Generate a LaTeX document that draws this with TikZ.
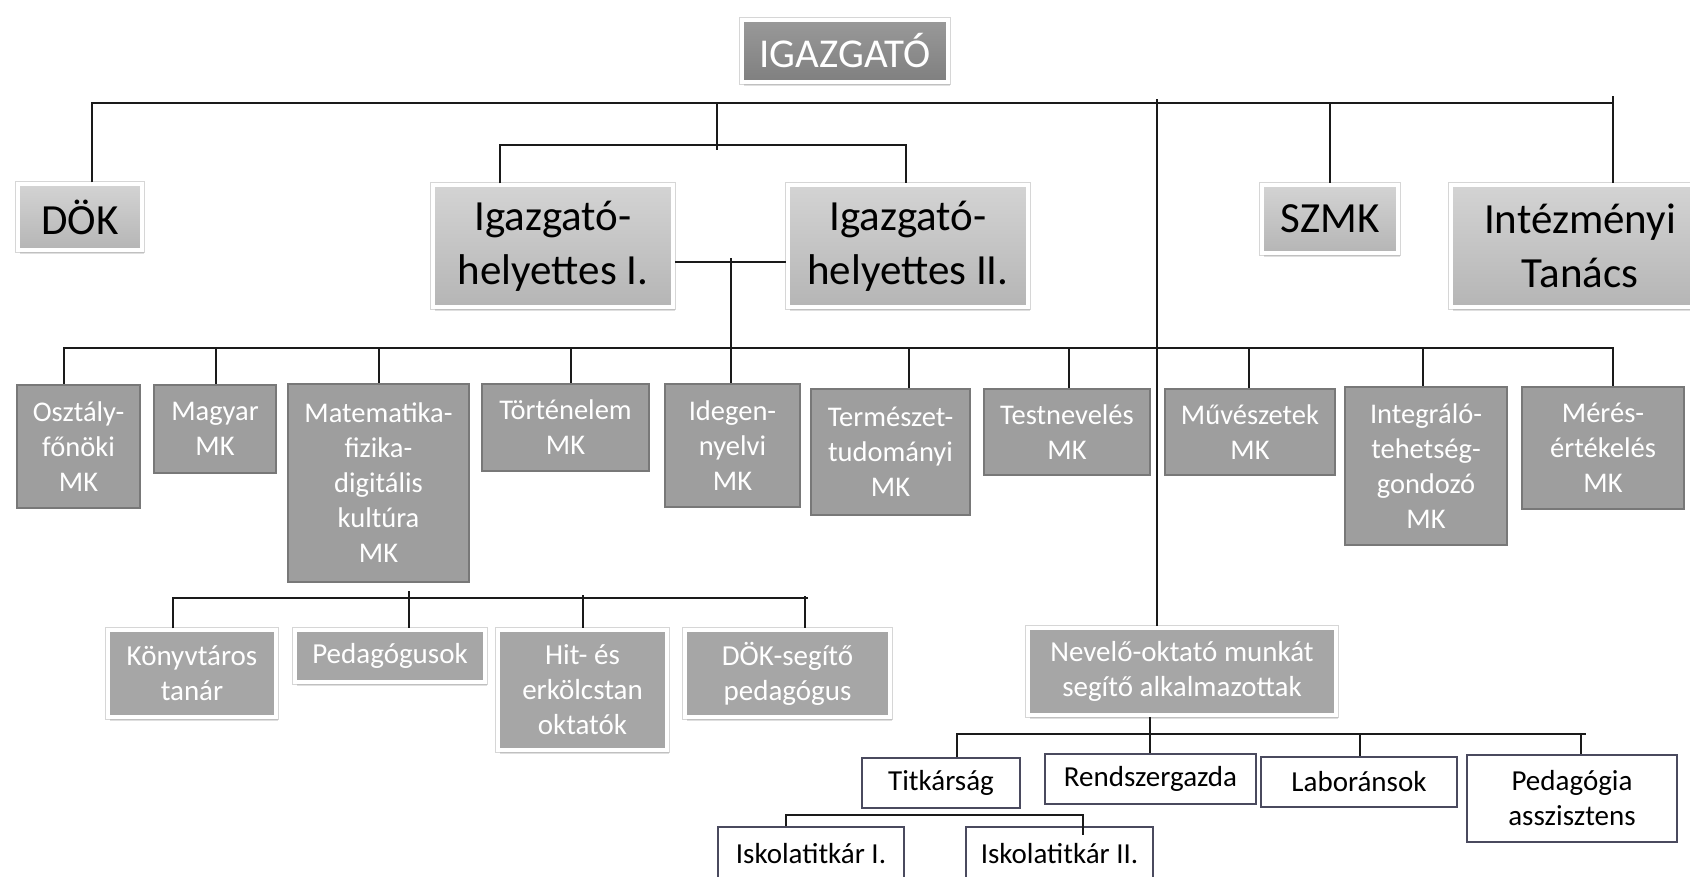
\documentclass[tikz,border=0pt]{standalone}
\usepackage{fontspec}
\setmainfont{Carlito}
\usetikzlibrary{shadows}
\definecolor{linec}{HTML}{1A1A1A}
\definecolor{staffedge}{HTML}{4A4A5E}
\begin{document}
\begin{tikzpicture}[x=1pt,y=-1pt,
  box/.style={rectangle, inner sep=0pt, align=center},
  framed/.style={preaction={draw=black!16, line width=6.5pt},
    drop shadow={shadow xshift=1.5pt, shadow yshift=-3.5pt, opacity=0.25},
    draw=white, line width=3.5pt},
  topbox/.style={box, framed, top color=black!17, bottom color=black!29,
    font=\fontsize{43}{54}\selectfont, text=black},
  chiefbox/.style={box, framed, top color=black!40, bottom color=black!50,
    font=\fontsize{41}{50}\selectfont, text=white},
  mkbox/.style={box, fill=black!38, draw=black!53, line width=2.5pt,
    font=\fontsize{28.5}{35}\selectfont, text=white},
  helpbox/.style={box, framed, fill=black!35,
    font=\fontsize{29}{35}\selectfont, text=white},
  staffbox/.style={box, fill=white, draw=staffedge, line width=1.1pt,
    font=\fontsize{29}{35}\selectfont, text=black},
  conn/.style={draw=linec, line width=1.6pt}
]
\useasboundingbox (0,0) rectangle (1690,876);
\fill[white] (0,0) rectangle (1690,876);
\clip (0,0) rectangle (1690,876);

% top level
\node[chiefbox, minimum width=206pt, minimum height=62pt] (igaz) at (845,51) {IGAZGATÓ};
\node[topbox, minimum width=124pt, minimum height=66pt] (dok) at (80,217) {DÖK};
\node[topbox, minimum width=240pt, minimum height=122pt] (igh1) at (553,246) {Igazgató-\\helyettes I.};
\node[topbox, minimum width=240pt, minimum height=122pt] (igh2) at (908,246) {Igazgató-\\helyettes II.};
\node[topbox, minimum width=136pt, minimum height=68pt] (szmk) at (1330,219) {SZMK};
\node[topbox, minimum width=258pt, minimum height=122pt] (intez) at (1580,246) {Intézményi\\Tanács};

% MK row
\node[mkbox, minimum width=123pt, minimum height=123pt] (osz) at (78.5,446.5) {Osztály-\\főnöki\\MK};
\node[mkbox, minimum width=122pt, minimum height=88pt] (magyar) at (215,429) {Magyar\\MK};
\node[mkbox, minimum width=181pt, minimum height=198pt] (matek) at (378.5,483) {Matematika-\\fizika-\\digitális\\kultúra\\MK};
\node[mkbox, minimum width=167pt, minimum height=87pt] (tort) at (565.5,427.5) {Történelem\\MK};
\node[mkbox, minimum width=135pt, minimum height=123pt] (idegen) at (732.5,445.5) {Idegen-\\nyelvi\\MK};
\node[mkbox, minimum width=159pt, minimum height=126pt] (term) at (890.5,452) {Természet-\\tudományi\\MK};
\node[mkbox, minimum width=166pt, minimum height=86pt] (test) at (1067,432) {Testnevelés\\MK};
\node[mkbox, minimum width=170pt, minimum height=86pt] (muv) at (1250,432) {Művészetek\\MK};
\node[mkbox, minimum width=162pt, minimum height=158pt] (integr) at (1426,466) {Integráló-\\tehetség-\\gondozó\\MK};
\node[mkbox, minimum width=162pt, minimum height=122pt] (meres) at (1603,448) {Mérés-\\értékelés\\MK};

% third row
\node[helpbox, minimum width=168pt, minimum height=87pt] (konyv) at (192,673.5) {Könyvtáros\\tanár};
\node[helpbox, minimum width=190pt, minimum height=52pt] (pedag) at (390,656) {Pedagógusok};
\node[helpbox, minimum width=169pt, minimum height=120pt] (hit) at (582.5,690) {Hit- és\\erkölcstan\\oktatók};
\node[helpbox, minimum width=205pt, minimum height=87pt] (doks) at (787.5,673.5) {DÖK-segítő\\pedagógus};
\node[helpbox, minimum width=308pt, minimum height=87pt] (nevelo) at (1182,671.5) {Nevelő-oktató munkát\\segítő alkalmazottak};

% staff
\node[staffbox, minimum width=158pt, minimum height=50pt] (titk) at (941,783) {Titkárság};
\node[staffbox, minimum width=211pt, minimum height=50pt] (rend) at (1150.5,779) {Rendszergazda};
\node[staffbox, minimum width=196pt, minimum height=50pt] (labor) at (1359,782) {Laboránsok};
\node[staffbox, minimum width=210pt, minimum height=87pt] (pedas) at (1572,798.5) {Pedagógia\\asszisztens};
\node[staffbox, minimum width=186pt, minimum height=53pt] (isk1) at (811,853.5) {Iskolatitkár I.};
\node[staffbox, minimum width=187pt, minimum height=53pt] (isk2) at (1059.5,853.5) {Iskolatitkár II.};

% connectors: top bus
\coordinate (t1) at (92,103);
\coordinate (t2) at (1613,103);
\coordinate (t2top) at (1613,96);
\draw[conn] (t1 |- dok.north) -- (t1) -- (t2);
\draw[conn] (t2top) -- (t2top |- intez.north);
\draw[conn] (szmk.north |- t1) -- (szmk.north);
\coordinate (lv) at (1157,99);
\draw[conn] (lv) -- (lv |- nevelo.north);

% deputies
\coordinate (d0) at (717,103);
\coordinate (d1) at (717,150);
\draw[conn] (d0) -- (d1);
\coordinate (dL) at (500,145);
\coordinate (dR) at (906,145);
\draw[conn] (dL |- igh1.north) -- (dL) -- (dR) -- (dR |- igh2.north);
\coordinate (dl) at (731,262);
\draw[conn] (igh1.east |- dl) -- (igh2.west |- dl);
\coordinate (dl0) at (731,258);
\draw[conn] (dl0) -- (dl0 |- idegen.north);

% MK bus
\coordinate (mL) at (64,348);
\coordinate (mR) at (1613,348);
\draw[conn] (mL |- osz.north) -- (mL) -- (mR) -- (mR |- meres.north);
\foreach \n/\x in {magyar/216, matek/379, tort/571, term/909, test/1069, muv/1249, integr/1423}{
  \coordinate (tmp) at (\x,348);
  \draw[conn] (tmp) -- (tmp |- \n.north);
}

% third-row bus
\coordinate (rL) at (173,598);
\coordinate (rR) at (808,598);
\draw[conn] (rL |- konyv.north) -- (rL) -- (rR);
\coordinate (rp) at (409,591);
\draw[conn] (rp) -- (rp |- pedag.north);
\coordinate (rh) at (583,595);
\draw[conn] (rh) -- (rh |- hit.north);
\coordinate (rd) at (805,596);
\draw[conn] (rd) -- (rd |- doks.north);

% staff bus
\coordinate (sL) at (957,734);
\coordinate (sR) at (1586,734);
\draw[conn] (sL |- titk.north) -- (sL) -- (sR);
\coordinate (nv) at (1150,717);
\draw[conn] (nv) -- (nv |- rend.north);
\coordinate (sl) at (1360,734);
\draw[conn] (sl) -- (sl |- labor.north);
\coordinate (sp) at (1581,734);
\draw[conn] (sp) -- (sp |- pedas.north);

% secretaries
\coordinate (iL) at (786,815);
\coordinate (iR) at (1083,815);
\coordinate (iR2) at (1083,835);
\draw[conn] (iL |- isk1.north) -- (iL) -- (iR) -- (iR2);
\end{tikzpicture}
\end{document}
